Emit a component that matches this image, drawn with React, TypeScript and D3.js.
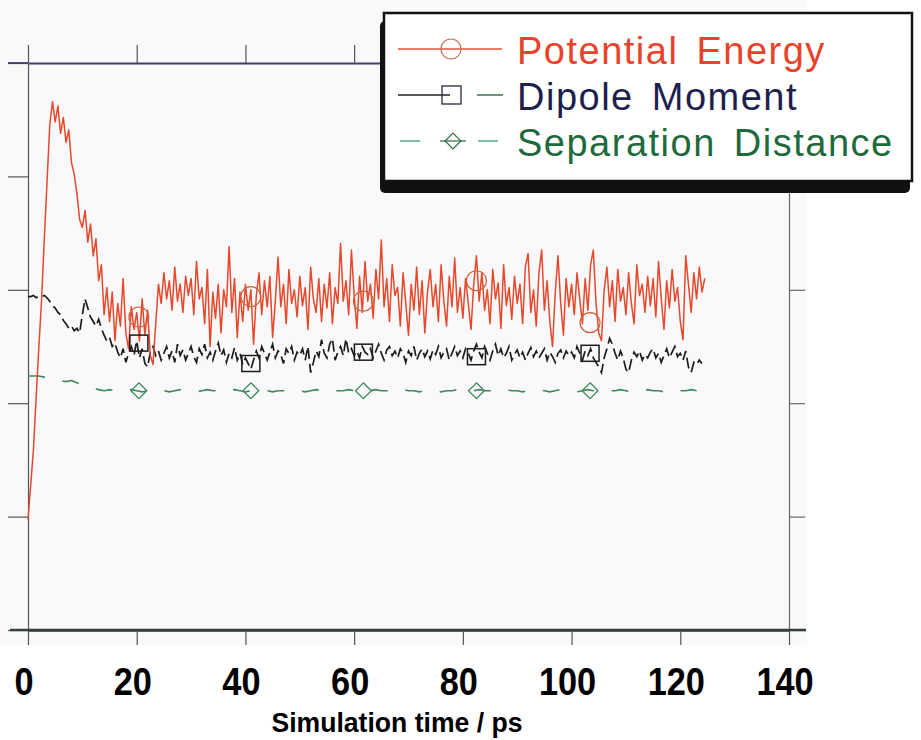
import { useEffect, useRef } from 'react'
import * as d3 from 'd3'

// sampling of the traces (ps)
const peStart = 0
const peStep = 0.5
const dipStart = 0
const dipStep = 0.5
const sepStart = 0
const sepStep = 1

// Potential energy (arbitrary units, 0-5 frame)
const potentialEnergy = [
  0.97, 1.28, 1.59, 2.05, 2.50, 2.91, 3.45, 3.95, 4.45, 4.66,
  4.48, 4.62, 4.38, 4.52, 4.30, 4.41, 4.12, 4.02, 3.85, 3.62,
  3.55, 3.70, 3.42, 3.58, 3.30, 3.45, 3.08, 3.22, 2.78, 3.02,
  2.72, 2.98, 2.55, 2.88, 2.68, 3.10, 2.62, 2.48, 2.85, 2.65,
  2.80, 2.55, 2.92, 2.60, 2.82, 2.42, 2.34, 2.70, 3.05, 2.88,
  3.15, 2.92, 3.08, 2.82, 3.20, 2.90, 3.05, 2.80, 3.12, 2.95,
  3.10, 2.78, 3.25, 2.92, 3.02, 2.70, 3.18, 2.50, 2.98, 2.75,
  3.05, 2.62, 3.00, 2.85, 3.38, 2.80, 3.10, 2.58, 2.98, 2.72,
  3.05, 2.82, 3.00, 2.52, 2.95, 3.15, 2.78, 3.08, 2.85, 3.12,
  2.58, 2.90, 3.29, 2.85, 3.05, 2.70, 3.18, 2.88, 3.00, 2.76,
  3.12, 2.86, 3.02, 2.65, 3.20, 2.92, 2.80, 3.10, 2.72, 3.05,
  2.84, 3.15, 2.70, 3.02, 2.88, 3.41, 2.90, 3.08, 2.78, 3.35,
  2.95, 2.66, 3.12, 2.80, 3.25, 2.90, 3.05, 2.75, 3.18, 2.92,
  3.44, 2.85, 3.10, 2.72, 3.22, 2.95, 3.02, 2.68, 3.15, 2.88,
  2.60, 3.05, 2.82, 3.20, 2.78, 3.08, 2.62, 2.98, 3.18, 2.85,
  3.05, 2.72, 3.22, 2.90, 2.68, 3.12, 2.85, 3.28, 2.80, 3.02,
  2.75, 3.10, 2.88, 2.65, 3.05, 3.30, 2.90, 3.15, 2.82, 3.00,
  2.70, 3.18, 2.92, 3.06, 2.66, 3.22, 2.86, 3.02, 2.74, 3.12,
  2.88, 3.05, 2.70, 3.20, 3.32, 2.80, 3.00, 2.68, 3.15, 3.35,
  2.82, 3.08, 2.72, 2.50, 2.98, 3.30, 2.88, 2.60, 3.10, 2.85,
  3.05, 2.78, 3.15, 2.92, 2.70, 3.10, 2.82, 3.22, 3.35, 2.88,
  2.62, 2.55, 3.00, 3.20, 2.85, 3.08, 2.72, 3.18, 2.90, 3.02,
  2.78, 3.15, 2.88, 2.70, 3.22, 2.95, 3.05, 2.80, 3.12, 2.86,
  3.10, 2.76, 3.25, 2.92, 2.65, 3.08, 2.84, 3.18, 2.90, 3.02,
  2.72, 2.56, 3.30, 3.05, 2.80, 3.15, 2.92, 3.20, 2.98, 3.10,
]

const dipoleMoment = [
  2.94, 2.94, 2.95, 2.93, 2.94, 2.94, 2.95, 2.93, 2.90, 2.86,
  2.84, 2.80, 2.78, 2.73, 2.70, 2.66, 2.68, 2.64, 2.66, 2.62,
  2.78, 2.92, 2.84, 2.76, 2.72, 2.68, 2.74, 2.66, 2.60, 2.55,
  2.58, 2.50, 2.53, 2.45, 2.40, 2.48, 2.36, 2.44, 2.50, 2.42,
  2.55, 2.40, 2.48, 2.35, 2.32, 2.45, 2.50, 2.42, 2.46, 2.38,
  2.44, 2.50, 2.40, 2.46, 2.36, 2.52, 2.42, 2.47, 2.38, 2.44,
  2.50, 2.41, 2.36, 2.48, 2.43, 2.52, 2.40, 2.45, 2.38, 2.46,
  2.53, 2.42, 2.47, 2.36, 2.44, 2.40, 2.49, 2.38, 2.44, 2.34,
  2.40, 2.35, 2.30, 2.38, 2.46, 2.40, 2.50, 2.44, 2.38, 2.45,
  2.52, 2.40, 2.46, 2.43, 2.35, 2.48, 2.44, 2.50, 2.38, 2.45,
  2.42, 2.48, 2.38, 2.50, 2.27, 2.36, 2.46, 2.41, 2.56, 2.44,
  2.40, 2.52, 2.57, 2.38, 2.45, 2.50, 2.42, 2.57, 2.44, 2.48,
  2.42, 2.46, 2.40, 2.50, 2.45, 2.43, 2.48, 2.40, 2.46, 2.52,
  2.44, 2.38, 2.47, 2.50, 2.42, 2.46, 2.40, 2.48, 2.44, 2.36,
  2.46, 2.42, 2.50, 2.38, 2.44, 2.48, 2.41, 2.46, 2.39, 2.47,
  2.43, 2.50, 2.40, 2.45, 2.48, 2.38, 2.44, 2.50, 2.42, 2.46,
  2.40, 2.48, 2.44, 2.38, 2.46, 2.52, 2.45, 2.40, 2.50, 2.44,
  2.38, 2.46, 2.52, 2.42, 2.48, 2.40, 2.44, 2.50, 2.38, 2.43,
  2.47, 2.40, 2.45, 2.38, 2.44, 2.49, 2.41, 2.46, 2.40, 2.44,
  2.48, 2.38, 2.45, 2.41, 2.36, 2.44, 2.47, 2.40, 2.46, 2.42,
  2.45, 2.40, 2.50, 2.44, 2.38, 2.46, 2.42, 2.48, 2.40, 2.36,
  2.32, 2.27, 2.40, 2.48, 2.57, 2.52, 2.44, 2.38, 2.46, 2.40,
  2.30, 2.27, 2.38, 2.45, 2.41, 2.46, 2.38, 2.43, 2.40, 2.45,
  2.48, 2.40, 2.44, 2.36, 2.42, 2.48, 2.40, 2.45, 2.50, 2.41,
  2.44, 2.38, 2.46, 2.32, 2.27, 2.36, 2.34, 2.38, 2.35,
]

const separationDistance = [
  2.24, 2.24, 2.24, 2.23, 2.22, 2.21, 2.20, 2.19, 2.20, 2.18,
  2.16, 2.14, 2.13, 2.12, 2.11, 2.12, 2.11, 2.10, 2.11, 2.12,
  2.11, 2.10, 2.11, 2.11, 2.12, 2.11, 2.10, 2.11, 2.12, 2.11,
  2.11, 2.10, 2.11, 2.12, 2.11, 2.11, 2.10, 2.11, 2.12, 2.11,
  2.10, 2.11, 2.11, 2.12, 2.11, 2.10, 2.11, 2.11, 2.12, 2.11,
  2.11, 2.10, 2.11, 2.12, 2.11, 2.11, 2.10, 2.11, 2.11, 2.12,
  2.11, 2.10, 2.11, 2.11, 2.12, 2.11, 2.11, 2.10, 2.11, 2.12,
  2.11, 2.11, 2.10, 2.11, 2.12, 2.11, 2.10, 2.11, 2.11, 2.12,
  2.11, 2.10, 2.11, 2.12, 2.11, 2.11, 2.10, 2.11, 2.12, 2.11,
  2.11, 2.10, 2.11, 2.11, 2.12, 2.11, 2.10, 2.11, 2.12, 2.11,
  2.11, 2.10, 2.11, 2.12, 2.11, 2.11, 2.10, 2.11, 2.11, 2.12,
  2.11, 2.10, 2.11, 2.11, 2.12, 2.11, 2.11, 2.10, 2.11, 2.12,
  2.11, 2.11, 2.12, 2.11,
]

// symbol positions along the traces
const markerTimes = [20.4, 41.0, 61.7, 82.5, 103.4]
const peMarkers = [2.76, 2.94, 2.90, 3.08, 2.71]
const dipMarkers = [2.53, 2.35, 2.45, 2.41, 2.44]
const sepMarkers = [2.11, 2.11, 2.11, 2.11, 2.11]

const xTicks = [0, 20, 40, 60, 80, 100, 120, 140]
const yTicks = [0, 1, 2, 3, 4, 5]

const legendItems = [
  { label: 'Potential Energy', color: '#e8432a', line: '#e0553a', symbol: 'circle' },
  { label: 'Dipole Moment', color: '#1e1f4e', line: '#222', symbol: 'square' },
  { label: 'Separation Distance', color: '#1f6a3c', line: '#4f9c84', symbol: 'diamond' },
]

const RED = '#e8472a'
const BLACK = '#1c1c1c'
const GREEN = '#3c8a5a'
const FONT = '"Liberation Sans", Arial, Helvetica, sans-serif'

export default function App() {
  const svgRef = useRef<SVGSVGElement>(null)

  useEffect(() => {
    if (!svgRef.current) return
    const svg = d3.select(svgRef.current)
    svg.selectAll('*').remove()

    const width = 921
    const height = 740

    const x = d3.scaleLinear().domain([0, 140]).range([28, 789])
    const y = d3.scaleLinear().domain([0, 5]).range([630, 63])

    svg.attr('width', width).attr('height', height)

    // faint paper tone of the plot panel
    svg.append('rect')
      .attr('x', 0).attr('y', 0)
      .attr('width', 807).attr('height', 645)
      .attr('fill', '#f9f9fb')

    // axes
    const left = svg.append('g')
      .attr('transform', `translate(${x(0)},0)`)
      .call(d3.axisLeft(y).tickValues(yTicks).tickSize(20).tickSizeOuter(0).tickFormat(() => ''))
    left.selectAll('path,line').attr('stroke', '#555').attr('stroke-width', 1.2)

    const right = svg.append('g')
      .attr('transform', `translate(${x(140)},0)`)
      .call(d3.axisRight(y).tickValues(yTicks).tickSize(16).tickSizeOuter(0).tickFormat(() => ''))
    right.selectAll('path,line').attr('stroke', '#666').attr('stroke-width', 1.2)

    const top = svg.append('g')
      .attr('transform', `translate(0,${y(5)})`)
      .call(d3.axisTop(x).tickValues(xTicks).tickSize(18).tickSizeOuter(0).tickFormat(() => ''))
    top.selectAll('line').attr('stroke', '#555').attr('stroke-width', 1.2)
    top.select('.domain').attr('stroke', '#4b3a6e').attr('stroke-width', 1.8)

    const bottom = svg.append('g')
      .attr('transform', `translate(0,${y(0)})`)
      .call(d3.axisBottom(x).tickValues(xTicks).tickSize(15).tickSizeOuter(0).tickFormat(() => ''))
    bottom.selectAll('line').attr('stroke', '#555').attr('stroke-width', 1.2)
    bottom.select('.domain').attr('stroke', '#33423a').attr('stroke-width', 2.5)

    // extend bottom and top frame lines a little past the side axes
    svg.append('line')
      .attr('x1', 8).attr('x2', x(0)).attr('y1', y(5)).attr('y2', y(5))
      .attr('stroke', '#4b3a6e').attr('stroke-width', 1.8)
    svg.append('line')
      .attr('x1', 10).attr('x2', 806).attr('y1', y(0)).attr('y2', y(0))
      .attr('stroke', '#33423a').attr('stroke-width', 2.5)

    // x tick labels (narrow bold face)
    svg.append('g')
      .selectAll('text')
      .data(xTicks)
      .enter().append('text')
      .attr('transform', d => `translate(${x(d) - 4},695) scale(0.88,1)`)
      .attr('text-anchor', 'middle')
      .style('font-family', FONT)
      .style('font-weight', 'bold')
      .style('font-size', '39px')
      .attr('fill', '#000')
      .text(d => String(d))

    svg.append('text')
      .attr('transform', 'translate(397,732) scale(0.95,1)')
      .attr('text-anchor', 'middle')
      .style('font-family', FONT)
      .style('font-weight', 'bold')
      .style('font-size', '28px')
      .attr('fill', '#000')
      .text('Simulation time / ps')

    // series
    const peLine = d3.line<number>()
      .x((_, i) => x(peStart + i * peStep))
      .y(d => y(d))
    const dipLine = d3.line<number>()
      .x((_, i) => x(dipStart + i * dipStep))
      .y(d => y(d))
    const sepLine = d3.line<number>()
      .x((_, i) => x(sepStart + i * sepStep))
      .y(d => y(d))

    svg.append('path')
      .datum(separationDistance)
      .attr('fill', 'none')
      .attr('stroke', GREEN)
      .attr('stroke-width', 1.6)
      .attr('stroke-dasharray', '17,18')
      .attr('d', sepLine)

    svg.append('path')
      .datum(dipoleMoment)
      .attr('fill', 'none')
      .attr('stroke', BLACK)
      .attr('stroke-width', 1.7)
      .attr('stroke-dasharray', '11,5')
      .attr('d', dipLine)

    svg.append('path')
      .datum(potentialEnergy)
      .attr('fill', 'none')
      .attr('stroke', RED)
      .attr('stroke-width', 1.5)
      .attr('stroke-linejoin', 'round')
      .attr('d', peLine)

    // symbols
    svg.append('g')
      .selectAll('circle')
      .data(markerTimes)
      .enter().append('circle')
      .attr('cx', d => x(d))
      .attr('cy', (_, i) => y(peMarkers[i]))
      .attr('r', 10)
      .attr('fill', 'none')
      .attr('stroke', '#d0603a')
      .attr('stroke-width', 1.2)

    svg.append('g')
      .selectAll('rect')
      .data(markerTimes)
      .enter().append('rect')
      .attr('x', d => x(d) - 9)
      .attr('y', (_, i) => y(dipMarkers[i]) - 8)
      .attr('width', 18)
      .attr('height', 16)
      .attr('fill', 'none')
      .attr('stroke', BLACK)
      .attr('stroke-width', 1.5)

    const diamond = d3.symbol().type(d3.symbolDiamond2).size(160)
    svg.append('g')
      .selectAll('path')
      .data(markerTimes)
      .enter().append('path')
      .attr('transform', (d, i) => `translate(${x(d)},${y(sepMarkers[i])})`)
      .attr('d', diamond)
      .attr('fill', 'none')
      .attr('stroke', GREEN)
      .attr('stroke-width', 1.3)

    // legend
    const lg = svg.append('g')
    lg.append('rect')
      .attr('x', 380).attr('y', 21)
      .attr('width', 530).attr('height', 172)
      .attr('rx', 5)
      .attr('fill', '#111')
    lg.append('rect')
      .attr('x', 384).attr('y', 13)
      .attr('width', 528).attr('height', 168)
      .attr('fill', '#fff')
      .attr('stroke', '#111')
      .attr('stroke-width', 2.5)

    const rowY = [49, 95, 141]
    legendItems.forEach((item, i) => {
      const cy = rowY[i]
      const row = lg.append('g')
      if (item.symbol === 'circle') {
        row.append('line')
          .attr('x1', 398).attr('x2', 502).attr('y1', cy).attr('y2', cy)
          .attr('stroke', item.line).attr('stroke-width', 1.4)
        row.append('circle')
          .attr('cx', 451).attr('cy', cy).attr('r', 10)
          .attr('fill', 'none').attr('stroke', '#c8704a').attr('stroke-width', 1.2)
      } else if (item.symbol === 'square') {
        row.append('line')
          .attr('x1', 398).attr('x2', 450).attr('y1', cy).attr('y2', cy)
          .attr('stroke', item.line).attr('stroke-width', 1.4)
        row.append('rect')
          .attr('x', 442).attr('y', cy - 9).attr('width', 19).attr('height', 18)
          .attr('fill', 'none').attr('stroke', '#2a2540').attr('stroke-width', 1.3)
        row.append('line')
          .attr('x1', 477).attr('x2', 503).attr('y1', cy).attr('y2', cy)
          .attr('stroke', '#2f6b40').attr('stroke-width', 1.4)
      } else {
        row.append('line')
          .attr('x1', 400).attr('x2', 420).attr('y1', cy).attr('y2', cy)
          .attr('stroke', item.line).attr('stroke-width', 1.4)
        row.append('path')
          .attr('transform', `translate(453,${cy})`)
          .attr('d', diamond)
          .attr('fill', 'none').attr('stroke', '#2f6b40').attr('stroke-width', 1.2)
        row.append('line')
          .attr('x1', 440).attr('x2', 466).attr('y1', cy).attr('y2', cy)
          .attr('stroke', '#2f6b40').attr('stroke-width', 1.2)
        row.append('line')
          .attr('x1', 478).attr('x2', 498).attr('y1', cy).attr('y2', cy)
          .attr('stroke', item.line).attr('stroke-width', 1.4)
      }
      row.append('text')
        .attr('x', 517)
        .attr('y', cy + 15)
        .style('font-family', FONT)
        .style('font-size', '38px')
        .style('letter-spacing', '1.5px')
        .style('word-spacing', '6px')
        .attr('fill', item.color)
        .text(item.label)
    })
  }, [])

  return (
    <div style={{ position: 'absolute', left: 0, top: 0 }}>
      <svg ref={svgRef} style={{ display: 'block' }} />
    </div>
  )
}
